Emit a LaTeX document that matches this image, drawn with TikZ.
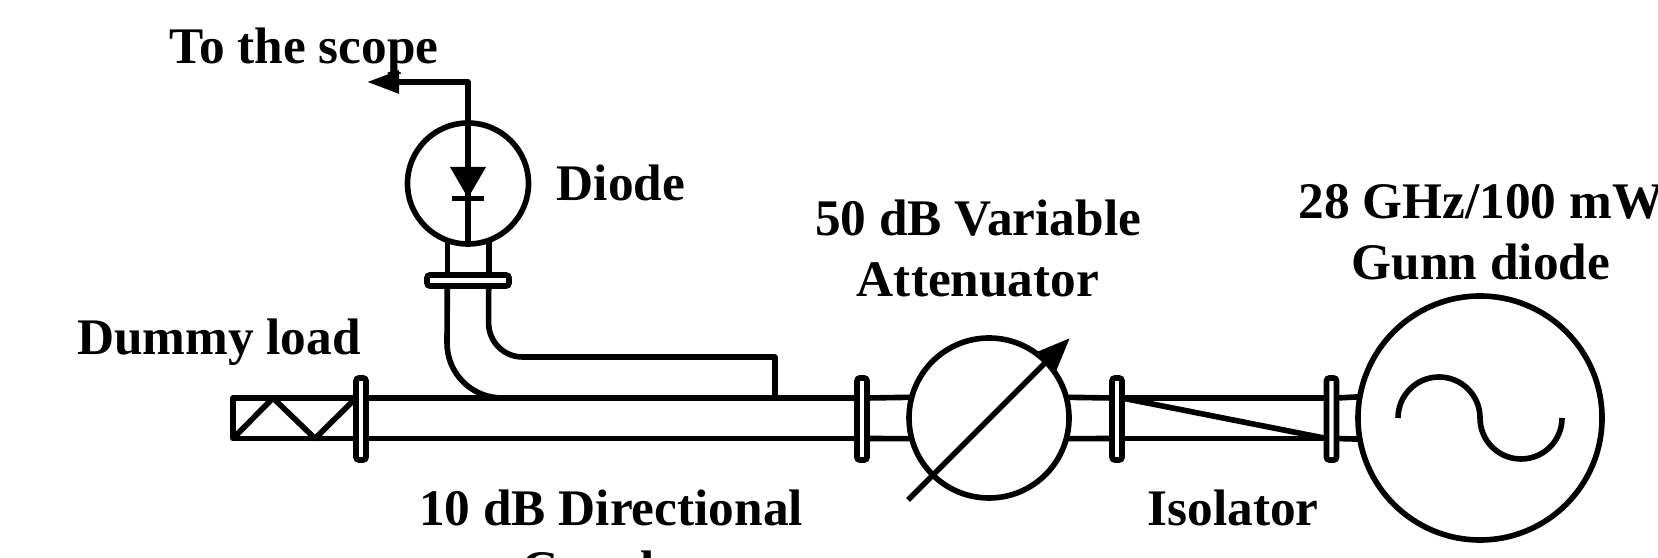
\documentclass[tikz,border=0pt]{standalone}
\usepackage{fontspec}
\setmainfont{Liberation Serif}
\usetikzlibrary{arrows.meta,calc}
\tikzset{
  wire/.style={line width=1.6pt, line join=round},
  wgFlange/.style={draw, line width=1.6pt, fill=white, rounded corners=0.8pt, inner sep=0pt, outer sep=0pt},
  wgCircle/.style={draw, line width=1.6pt, circle, inner sep=0pt, outer sep=0pt},
  wgLabel/.style={font=\bfseries\fontsize{14.6}{17.4}\selectfont, align=center, inner sep=0pt}
}
\begin{document}
\begin{tikzpicture}[x=1cm,y=1cm]
  \useasboundingbox (0,0) rectangle (16.58,5.58);
  \coordinate (railtop) at (0,1.60);
  \coordinate (railbot) at (0,1.195);
  \coordinate (loadend) at (2.33,1.40);
  \coordinate (scopeend) at (3.67,4.76);
  % flanges on the main guide
  \foreach \name/\x in {fa/3.61,fb/8.62,fc/11.17,fd/13.315} {
    \node[wgFlange, minimum width=0.10cm, minimum height=0.82cm] (\name) at (\x,1.39) {};
  }
  \node[wgFlange, minimum width=0.82cm, minimum height=0.11cm] (fe) at (4.68,2.775) {};
  \node[wgCircle, minimum size=1.21cm] (diode) at (4.68,3.745) {};
  \node[wgCircle, minimum size=1.60cm] (atten) at (9.89,1.40) {};
  \node[wgCircle, minimum size=2.44cm] (gunn) at (14.80,1.40) {};
  % dummy load
  \draw[wire] (fa.west |- railtop) -- (loadend |- railtop) -- (loadend |- railbot) -- (fa.west |- railbot);
  \draw[wire] (loadend |- railbot) -- (2.73,1.60) -- (3.15,1.195) -- (fa.west |- railtop);
  % main guide
  \draw[wire] (fa.east |- railtop) -- (fb.west |- railtop);
  \draw[wire] (fa.east |- railbot) -- (fb.west |- railbot);
  \draw[wire] (fb.east |- railtop) -- (atten.165);
  \draw[wire] (fb.east |- railbot) -- (atten.195);
  \draw[wire] (atten.15) -- (fc.west |- railtop);
  \draw[wire] (atten.345) -- (fc.west |- railbot);
  \draw[wire] (fc.east |- railtop) -- (fd.west |- railtop);
  \draw[wire] (fc.east |- railbot) -- (fd.west |- railbot);
  \draw[wire] (fd.east |- railtop) -- (gunn.170);
  \draw[wire] (fd.east |- railbot) -- (gunn.190);
  \draw[wire] (fc.east |- railtop) -- (fd.west |- railbot);
  % coupler arm
  \draw[wire] (diode.250) -- (diode.250 |- fe.north);
  \draw[wire] (diode.290) -- (diode.290 |- fe.north);
  \draw[wire] (diode.250 |- fe.south) -- (4.47,2.15) arc[start angle=180, end angle=270, radius=0.55];
  \draw[wire] (diode.290 |- fe.south) -- (4.886,2.35) arc[start angle=180, end angle=270, radius=0.34]
    -- (7.75,2.01) -- (7.75,1.60);
  % diode
  \draw[wire, -{Triangle[length=3.2mm, width=2.2mm]}] (diode.south) -- (diode.south |- scopeend) -- (scopeend);
  \fill (4.50,3.91) -- (4.86,3.91) -- (4.68,3.60) -- cycle;
  \draw[line width=1.6pt] (4.52,3.594) -- (4.84,3.594);
  % attenuator and source
  \draw[wire, -{Triangle[length=3.4mm, width=2.6mm]}] (9.08,0.58) -- (10.70,2.20);
  \draw[wire] (13.98,1.40) arc[start angle=180, end angle=0, radius=0.41]
    arc[start angle=180, end angle=360, radius=0.41];
  % labels
  \node[wgLabel, anchor=base] (scopelab) at (3.04,4.94) {To the scope};
  \node[wgLabel, anchor=base west] (diodelab) at (5.56,3.57) {Diode};
  \node[wgLabel, anchor=base] (loadlab) at (2.19,2.03) {Dummy load};
  \node[wgLabel, anchor=base] (attenlab) at (9.78,2.61) {50 dB Variable\\Attenuator};
  \node[wgLabel, anchor=base] (gunnlab) at (14.81,2.78) {28 GHz/100 mW\\Gunn diode};
  \node[wgLabel, anchor=base] (couplab) at (6.11,-0.29) {10 dB Directional\\Coupler};
  \node[wgLabel, anchor=base] (isolab) at (12.33,0.32) {Isolator};
\end{tikzpicture}
\end{document}
